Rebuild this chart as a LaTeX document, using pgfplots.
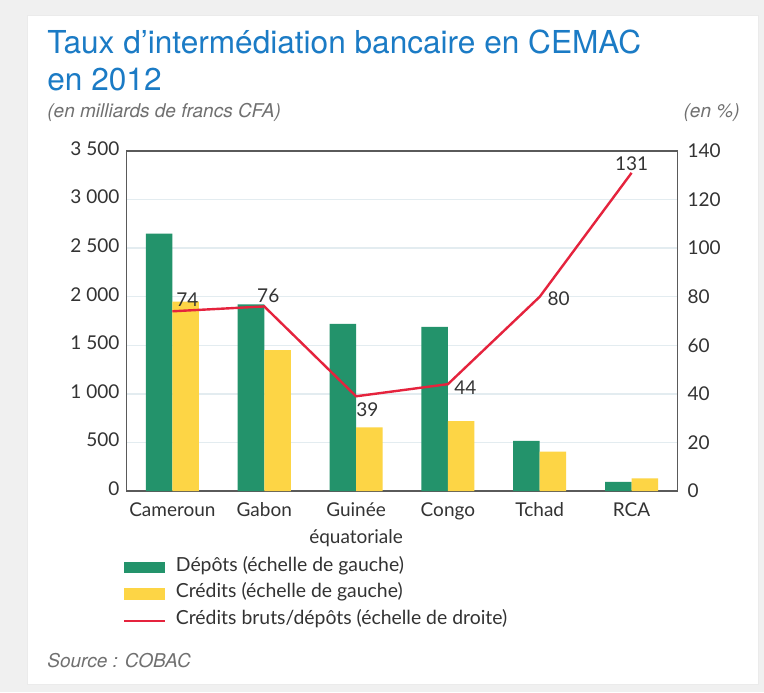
\documentclass[border=0pt]{standalone}
\usepackage{pgfplots}
\usepackage{pgfplotstable}
\pgfplotsset{compat=1.18}
\usepackage{fontspec}
\setmainfont{Lato}
\newfontfamily\helv{TeX Gyre Heros}
\definecolor{cgreen}{HTML}{23936B}
\definecolor{cyellow}{HTML}{FDD545}
\definecolor{cred}{HTML}{E5233D}
\definecolor{cblue}{HTML}{1B7BC5}
\definecolor{cframe}{HTML}{5A5A5A}
\definecolor{cgrid}{HTML}{E3ECF0}
\definecolor{ctext}{HTML}{333333}
\definecolor{csub}{HTML}{707070}
\definecolor{cbg}{HTML}{F0F0F0}

\pgfplotstableread{
x dep cred ratio dx dy
0 2650 1950 74 7.5 6
1 1920 1450 76 2 5.2
2 1720 655 39 5.7 -6.7
3 1690 720 44 8.7 -1.7
4 515 405 80 9.5 -0.8
5 95 130 131 0 4.4
}\data

\begin{document}
\begin{tikzpicture}
\fill[cbg] (0,0) rectangle (382pt,346pt);
\fill[white, draw=black!8, line width=0.5pt] (13.5pt,4pt) rectangle (379pt,338pt);

\node[anchor=base west, inner sep=0pt, text=cblue, font=\helv\fontsize{15.8}{19}\selectfont] at (23.5pt,319pt) {Taux d’intermédiation bancaire en CEMAC};
\node[anchor=base west, inner sep=0pt, text=cblue, font=\helv\fontsize{15.8}{19}\selectfont] at (23.5pt,300.5pt) {en 2012};
\node[anchor=base west, inner sep=0pt, text=csub, font=\helv\itshape\fontsize{9.5}{11}\selectfont] at (23.5pt,287pt) {(en milliards de francs CFA)};
\node[anchor=base east, inner sep=0pt, text=csub, font=\helv\itshape\fontsize{9.5}{11}\selectfont] at (370pt,287pt) {(en \%)};
\node[anchor=base west, inner sep=0pt, text=csub, font=\helv\itshape\fontsize{9.5}{11}\selectfont] at (23.5pt,12.5pt) {Source : COBAC};

\begin{axis}[
  at={(63.25pt,100.5pt)}, anchor=south west,
  scale only axis, width=275.5pt, height=170pt,
  xmin=-0.5, xmax=5.5, ymin=0, ymax=3500,
  xtick=data,
  xticklabels={Cameroun, Gabon, {Guinée\\équatoriale}, Congo, Tchad, RCA},
  typeset ticklabels with strut,
  xticklabel style={align=center, text=ctext, font=\fontsize{9.5}{13.5}\selectfont, yshift=0pt},
  ytick={0,500,...,3500},
  yticklabel style={text=ctext, font=\fontsize{9.5}{11}\selectfont},
  /pgf/number format/.cd, 1000 sep={\ }, assume math mode=true, /pgfplots/.cd,
  scaled y ticks=false,
  major tick length=0pt,
  ymajorgrids, grid style={cgrid, line width=0.7pt},
  axis line style={cframe, line width=0.75pt},
  ybar=0pt, bar width=13.25pt,
  legend style={at={(-0.0064,-0.185)}, anchor=north west, draw=none, fill=none,
    inner sep=0pt, font=\fontsize{9.7}{11}\selectfont, text=ctext,
    column sep=0pt, row sep=0pt,
    nodes={inner sep=0pt, text height=8.4pt, text depth=4.9pt}},
  legend cell align=left,
]
\addplot[fill=cgreen, draw=none,
  legend image code/.code={\fill[cgreen] (0pt,-2.9pt) rectangle (20.3pt,2.9pt); \path (25.6pt,0pt);}]
  table[x=x, y=dep] {\data};
\addlegendentry{Dépôts (échelle de gauche)}
\addplot[fill=cyellow, draw=none,
  legend image code/.code={\fill[cyellow] (0pt,-2.9pt) rectangle (20.3pt,2.9pt); \path (25.6pt,0pt);}]
  table[x=x, y=cred] {\data};
\addlegendentry{Crédits (échelle de gauche)}
\addlegendimage{legend image code/.code={\draw[cred, line width=0.9pt] (0pt,0pt) -- (20.3pt,0pt); \path (25.6pt,0pt);}}
\addlegendentry{Crédits bruts/dépôts (échelle de droite)}
\end{axis}

\begin{axis}[
  at={(63.25pt,100.5pt)}, anchor=south west,
  scale only axis, width=275.5pt, height=170pt,
  xmin=-0.5, xmax=5.5, ymin=0, ymax=140,
  axis y line*=right, axis x line=none,
  y axis line style={draw=none},
  ytick={0,20,...,140},
  yticklabel style={text=ctext, font=\fontsize{9.5}{11}\selectfont, xshift=1.5pt},
  /pgf/number format/assume math mode=true,
  major tick length=0pt,
  clip=false,
]
\addplot[cred, line width=1.2pt, mark=none,
  visualization depends on={\thisrow{dx} \as \dx},
  visualization depends on={\thisrow{dy} \as \dy},
  nodes near coords,
  nodes near coords style={anchor=center, xshift=\dx pt, yshift=\dy pt, text=ctext, font=\fontsize{9.5}{11}\selectfont, /pgf/number format/assume math mode=true},
  ] table[x=x, y=ratio] {\data};
\end{axis}
\end{tikzpicture}
\end{document}
